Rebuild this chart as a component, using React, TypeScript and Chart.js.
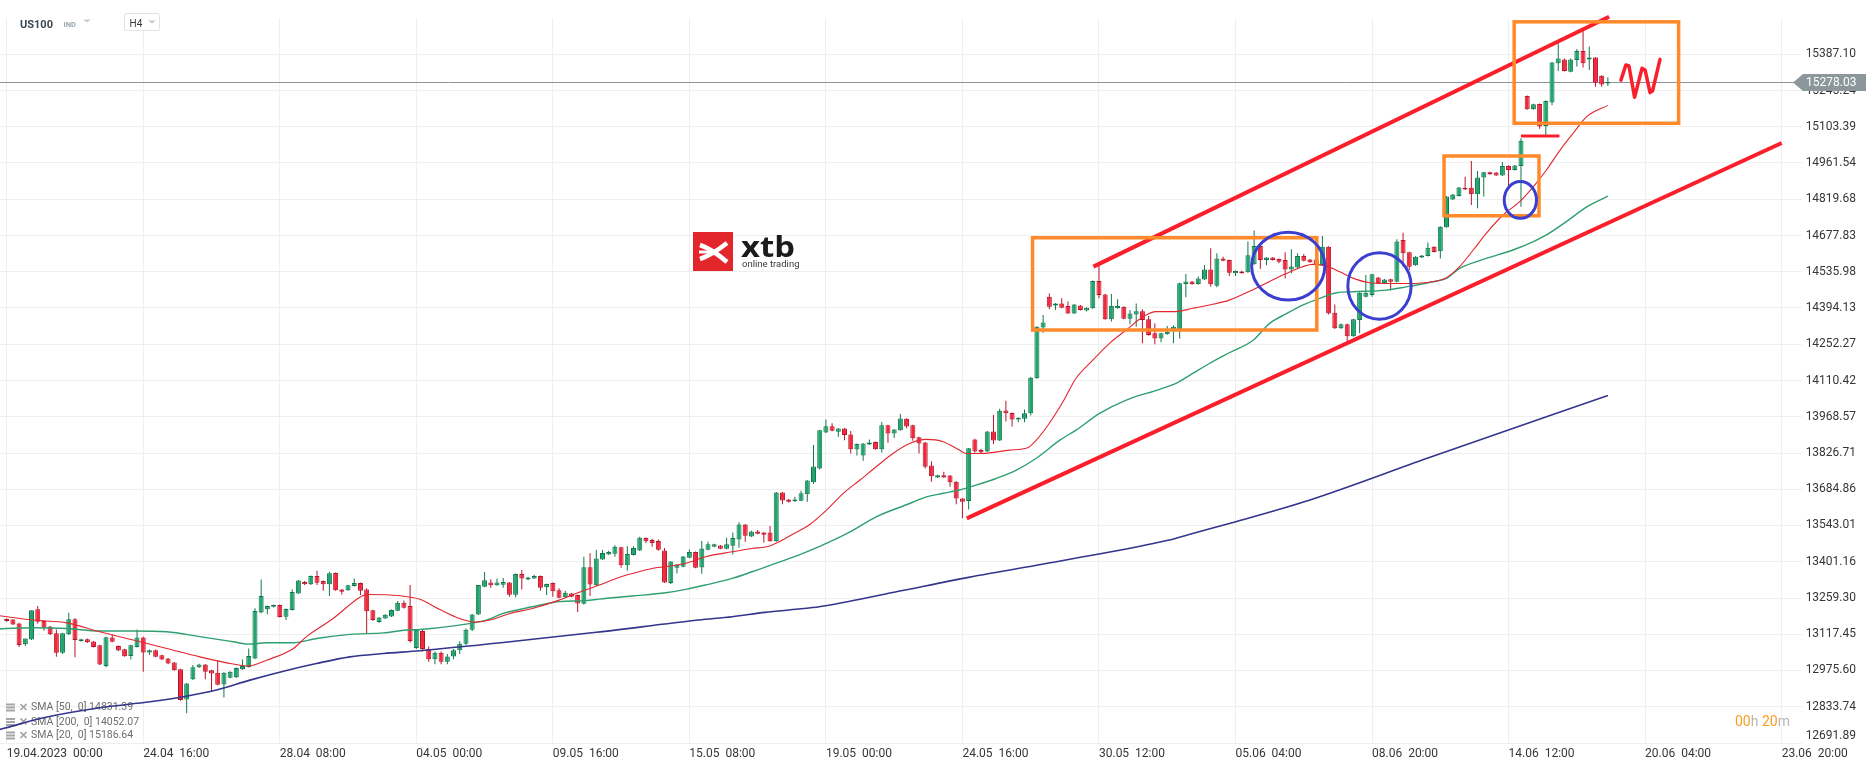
import React, { useEffect, useRef } from "react";
import { Chart, registerables } from "chart.js";

Chart.register(...registerables);

// ---------- DATA ----------
// H4 candles, index 0 = 19.04.2023 00:00, [open, high, low, close]
const ohlc: number[][] = [
  [13177,13179,13166,13169],[13175,13177,13154,13156],[13160,13162,13068,13075],[13078,13101,13071,13101],
  [13097,13211,13095,13211],[13215,13228,13160,13166],[13169,13172,13131,13144],[13148,13150,13115,13117],
  [13121,13136,13029,13045],[13045,13123,13040,13121],[13117,13202,13115,13176],[13176,13180,13027,13095],
  [13091,13100,13088,13098],[13098,13101,13083,13086],[13089,13091,13066,13068],[13074,13076,12997,12999],
  [12993,13108,12988,13106],[13105,13117,13086,13088],[13071,13073,13052,13054],[13059,13061,13029,13031],
  [13032,13076,13019,13074],[13068,13136,13066,13105],[13105,13108,12971,13046],[13046,13058,13036,13055],
  [13055,13058,13027,13029],[13035,13037,13017,13019],[13023,13025,13000,13003],[13007,13009,12975,12977],
  [12980,12982,12857,12860],[12862,12927,12808,12925],[12941,12997,12938,12988],[12988,13002,12985,12999],
  [12999,13001,12941,12971],[12977,12979,12892,12964],[12967,13014,12918,12920],[12921,12969,12870,12967],
  [12947,12973,12945,12971],[12949,12987,12946,12985],[12980,13019,12978,12993],[12989,13062,12987,13032],
  [13023,13219,13020,13208],[13203,13332,13200,13267],[13215,13230,13196,13228],[13225,13234,13222,13232],
  [13232,13234,13183,13185],[13186,13218,13173,13216],[13212,13293,13210,13283],[13277,13330,13275,13328],
  [13322,13326,13310,13313],[13313,13347,13310,13345],[13345,13366,13310,13319],[13326,13328,13288,13313],
  [13313,13362,13267,13356],[13357,13359,13288,13290],[13293,13295,13273,13284],[13290,13311,13288,13309],
  [13306,13336,13304,13318],[13318,13320,13271,13288],[13293,13297,13121,13207],[13211,13213,13170,13173],
  [13165,13185,13162,13183],[13179,13196,13177,13194],[13187,13214,13185,13212],[13209,13248,13207,13241],
  [13241,13250,13218,13221],[13228,13310,13084,13091],[13064,13136,13060,13134],[13130,13135,13050,13060],
  [13060,13070,13010,13020],[13020,13050,13000,13045],[13045,13050,13000,13010],[13010,13040,13000,13030],
  [13030,13060,13020,13055],[13055,13090,13040,13080],[13080,13140,13075,13135],[13135,13197,13130,13195],
  [13195,13310,13193,13310],[13303,13361,13301,13329],[13320,13333,13299,13309],[13309,13336,13307,13320],
  [13311,13338,13299,13322],[13320,13322,13264,13272],[13272,13355,13262,13353],[13353,13369,13293,13336],
  [13332,13342,13330,13340],[13336,13350,13334,13345],[13345,13347,13288,13299],[13301,13315,13271,13314],
  [13318,13320,13264,13286],[13290,13297,13258,13260],[13262,13288,13260,13280],[13277,13279,13262,13264],
  [13271,13273,13205,13238],[13237,13421,13234,13380],[13380,13434,13267,13312],[13309,13447,13307,13414],
  [13410,13447,13408,13435],[13430,13444,13428,13439],[13432,13466,13421,13460],[13458,13460,13378,13387],
  [13387,13462,13366,13431],[13428,13462,13426,13455],[13445,13499,13443,13495],[13494,13496,13475,13481],
  [13486,13491,13460,13475],[13482,13488,13444,13448],[13445,13455,13318,13320],[13318,13404,13314,13402],
  [13378,13391,13355,13389],[13382,13424,13380,13422],[13417,13449,13415,13439],[13439,13441,13376,13378],
  [13379,13482,13354,13453],[13448,13479,13446,13470],[13460,13472,13458,13470],[13465,13467,13450,13452],
  [13452,13495,13450,13470],[13464,13516,13430,13494],[13488,13556,13456,13547],[13547,13549,13479,13503],
  [13500,13522,13498,13520],[13520,13525,13509,13511],[13516,13518,13476,13507],[13516,13541,13479,13481],
  [13481,13674,13479,13672],[13672,13674,13626,13641],[13645,13647,13632,13636],[13638,13656,13636,13645],
  [13640,13679,13638,13669],[13665,13721,13636,13719],[13712,13858,13705,13774],[13766,13918,13762,13916],
  [13907,13958,13905,13931],[13931,13943,13912,13914],[13910,13925,13890,13923],[13923,13925,13877,13897],
  [13899,13913,13825,13841],[13840,13864,13817,13862],[13817,13866,13796,13864],[13860,13880,13858,13868],
  [13870,13872,13839,13841],[13841,13948,13829,13935],[13935,13937,13867,13903],[13903,13921,13885,13919],
  [13916,13979,13914,13962],[13961,13963,13924,13930],[13935,13937,13875,13884],[13888,13890,13825,13864],
  [13868,13870,13766,13773],[13778,13794,13714,13736],[13731,13742,13729,13740],[13740,13753,13729,13731],
  [13739,13741,13695,13712],[13714,13716,13626,13649],[13649,13651,13571,13636],[13639,13846,13606,13845],
  [13880,13882,13828,13833],[13838,13843,13827,13829],[13833,13913,13831,13911],[13911,13975,13862,13876],
  [13876,14000,13874,13992],[13993,14031,13950,13982],[13983,13985,13930,13958],[13958,13966,13947,13965],
  [13961,13997,13947,13982],[13982,14124,13973,14121],[14119,14323,14117,14321],[14318,14367,14297,14337],
  [14438,14451,14389,14399],[14404,14414,14386,14412],[14412,14432,14393,14395],[14402,14420,14371,14373],
  [14373,14410,14371,14408],[14404,14406,14384,14386],[14384,14397,14380,14395],[14393,14502,14391,14500],
  [14500,14560,14432,14445],[14447,14450,14348,14350],[14350,14449,14341,14403],[14393,14428,14391,14402],
  [14399,14401,14350,14352],[14352,14386,14331,14373],[14369,14412,14321,14381],[14381,14389,14256,14347],
  [14350,14363,14286,14288],[14295,14334,14252,14275],[14275,14297,14260,14295],[14291,14324,14289,14301],
  [14308,14327,14256,14321],[14308,14493,14275,14491],[14488,14527,14436,14498],[14498,14500,14485,14487],
  [14488,14517,14486,14510],[14506,14562,14504,14545],[14545,14628,14477,14487],[14481,14608,14475,14588],
  [14588,14595,14577,14579],[14582,14584,14519,14532],[14530,14541,14519,14539],[14537,14540,14528,14530],
  [14534,14654,14532,14601],[14565,14697,14563,14637],[14637,14639,14548,14582],[14582,14594,14561,14592],
  [14592,14594,14580,14582],[14586,14588,14569,14575],[14582,14612,14510,14545],[14545,14624,14530,14557],
  [14553,14608,14551,14598],[14598,14605,14577,14579],[14584,14586,14571,14573],[14584,14590,14560,14562],
  [14562,14676,14560,14634],[14634,14636,14369,14373],[14376,14408,14312,14315],[14315,14333,14312,14331],
  [14331,14333,14262,14284],[14284,14352,14282,14350],[14347,14456,14295,14454],[14438,14523,14436,14454],
  [14445,14528,14438,14526],[14513,14515,14488,14491],[14491,14508,14489,14506],[14507,14509,14464,14497],
  [14497,14663,14495,14654],[14660,14689,14556,14608],[14612,14614,14543,14556],[14561,14597,14559,14595],
  [14592,14602,14590,14600],[14598,14650,14596,14630],[14634,14636,14611,14613],[14616,14714,14588,14712],
  [14710,14832,14708,14830],[14819,14840,14817,14838],[14832,14868,14830,14866],[14865,14908,14856,14858],
  [14865,14969,14797,14839],[14839,14930,14784,14905],[14905,14927,14830,14925],[14925,14927,14916,14918],
  [14924,14926,14911,14913],[14913,14965,14911,14950],[14950,14952,14869,14934],[14934,14954,14932,14952],
  [14950,15058,14790,15049],[15224,15226,15170,15172],[15172,15193,15170,15191],[15192,15194,15096,15104],
  [15106,15206,15071,15204],[15198,15357,15188,15355],[15352,15430,15322,15370],[15367,15370,15320,15322],
  [15319,15370,15317,15367],[15365,15408,15339,15400],[15400,15485,15335,15352],[15367,15417,15325,15374],
  [15374,15376,15260,15276],[15303,15305,15260,15269],[15273,15297,15263,15278.03],
];

const lastPrice = 15278.03;

// Moving averages: [candle index, value]
const sma20: number[][] = [
  [-1.1,13190],[0,13186],[4.3,13173],[9.7,13162],[15,13127],[20.4,13095],[25.8,13062],[31.1,13029],
  [36.5,13001],[38.9,12993],[41.9,13016],[46.2,13062],[48.3,13108],[52.6,13179],[56.9,13262],[58,13273],
  [63.4,13268],[66.6,13254],[69.8,13214],[73,13179],[75.5,13165],[77.9,13173],[81.1,13199],[84.7,13218],
  [89,13251],[91.7,13277],[95.5,13310],[98.2,13336],[100.8,13355],[104,13375],[106.2,13382],[109.4,13395],
  [112.6,13421],[116.9,13440],[120.1,13453],[122.8,13462],[125,13486],[127.1,13515],[129.3,13545],
  [132.1,13603],[134.8,13669],[137.5,13721],[140.1,13773],[142.8,13825],[145.5,13864],[148.2,13880],
  [150.9,13871],[153.5,13838],[154.6,13825],[157.3,13825],[161.6,13838],[164.5,13847],[165.9,13877],
  [168,13943],[170.2,14027],[172.3,14119],[175,14190],[177.7,14256],[180.4,14308],[183.1,14360],
  [185.2,14380],[188.4,14380],[191.1,14393],[193.8,14406],[197,14425],[200.9,14467],[206.3,14530],
  [210.5,14565],[212.7,14558],[214.8,14536],[217,14510],[219.6,14493],[222.3,14490],[225.5,14490],
  [229.8,14497],[232,14513],[234.1,14556],[236.3,14621],[238.4,14686],[241.1,14758],[243.8,14810],
  [246,14869],[248.1,14934],[250.3,15012],[252.4,15078],[254.6,15143],[258,15187],
];
const sma50: number[][] = [
  [-1.1,13138],[0,13140],[4.3,13143],[9.7,13140],[15,13130],[20.4,13130],[25.8,13127],[31.1,13108],
  [36.5,13088],[38.9,13079],[41.9,13084],[46.2,13084],[49.9,13101],[55.3,13117],[60.7,13123],[64.4,13134],
  [66.6,13136],[72,13150],[77.3,13173],[80,13199],[84.7,13225],[89,13245],[93.3,13249],[95.5,13255],
  [100.8,13267],[106.2,13280],[109.4,13293],[112.6,13310],[116.9,13336],[120.1,13362],[123.9,13395],
  [127.6,13427],[130.9,13460],[133.2,13486],[135.9,13518],[140.1,13577],[145.5,13629],[148.2,13655],
  [150.9,13669],[153.5,13682],[156.2,13701],[159.4,13727],[162.7,13760],[165.9,13806],[169.7,13877],
  [172.3,13916],[176.1,13982],[180.4,14034],[185.8,14076],[188.4,14099],[191.1,14138],[193.8,14177],
  [197,14219],[200.9,14269],[203.5,14334],[206.3,14373],[208.9,14406],[211.6,14432],[214.3,14454],
  [217,14458],[222.3,14464],[225.5,14477],[229.8,14497],[232,14510],[234.1,14549],[238.4,14588],
  [242.7,14621],[246,14654],[248.1,14680],[251.3,14732],[254.6,14790],[258,14832],
];
const sma200: number[][] = [
  [-1.1,12745],[0,12752],[5.4,12788],[15,12830],[23.1,12853],[28.5,12873],[33.8,12899],[39.2,12938],
  [44.6,12973],[49.9,13003],[55.3,13029],[60.7,13042],[66.6,13053],[80,13085],[95,13125],[111.5,13173],
  [116.9,13186],[122.2,13203],[127.6,13216],[130.9,13225],[143,13282],[155,13340],[170,13405],
  [187.3,13486],[191.1,13512],[197,13551],[210,13643],[229,13807],[258,14052],
];

// Axis ticks
const xTickIdx = [0, 22, 44, 66, 88, 110, 132, 154, 176, 198, 220, 242, 264, 286];
const xTickLabels = [
  "19.04.2023  00:00", "24.04  16:00", "28.04  08:00", "04.05  00:00", "09.05  16:00",
  "15.05  08:00", "19.05  00:00", "24.05  16:00", "30.05  12:00", "05.06  04:00",
  "08.06  20:00", "14.06  12:00", "20.06  04:00", "23.06  20:00",
];
const yTicks = [
  12691.89, 12833.74, 12975.60, 13117.45, 13259.30, 13401.16, 13543.01, 13684.86, 13826.71, 13968.57,
  14110.42, 14252.27, 14394.13, 14535.98, 14677.83, 14819.68, 14961.54, 15103.39, 15245.24, 15387.10,
];
const yMax = 15528.95;

// Drawn annotations, in data units (candle index, price)
const upperTrend: number[][] = [[175.1, 14556], [258.2, 15534]];
const lowerTrend: number[][] = [[154.7, 13571], [286, 15040]];
const supportMark: number[][] = [[244, 15067], [250.2, 15067]];
const wSketch: number[][] = [
  [260.1, 15286], [260.9, 15345], [261.4, 15341], [262.3, 15219], [263.5, 15332],
  [264.0, 15325], [264.8, 15237], [265.2, 15244], [266.4, 15367],
];
const boxes: number[][] = [
  // [left idx, right idx, top price, bottom price]
  [165.3, 211.1, 14669, 14308],
  [231.6, 246.9, 14989, 14755],
  [242.9, 269.4, 15514, 15117],
];
const rings: number[][] = [
  // [centre idx, centre price, radius idx, radius price]
  [206.5, 14558, 5.9, 133],
  [221.2, 14480, 5.1, 130],
  [243.9, 14817, 2.6, 72],
];

const legendRows = ["SMA [50,  0] 14831.39", "SMA [200,  0] 14052.07", "SMA [20,  0] 15186.64"];

// ---------- COLOURS ----------
const UP_FILL = "#22a46f";
const UP_LINE = "#11774c";
const DN_FILL = "#f2283c";
const DN_LINE = "#b8142a";
const TREND_RED = "#fb1f2c";
const BOX_ORANGE = "#ff8a2b";
const RING_BLUE = "#3b3fcf";
const GRID = "#efefef";

const overlayPlugin = {
  id: "overlay",
  beforeDatasetsDraw(chart: any) {
    const { ctx, scales } = chart;
    const y = scales.y;
    ctx.save();
    // current price line
    const py = Math.round(y.getPixelForValue(lastPrice)) + 0.5;
    ctx.strokeStyle = "#8a9499";
    ctx.lineWidth = 1;
    ctx.beginPath();
    ctx.moveTo(0, py);
    ctx.lineTo(1794, py);
    ctx.stroke();

    // xtb logo
    ctx.fillStyle = "#e3262b";
    ctx.fillRect(693, 232, 40, 39);
    ctx.strokeStyle = "#ffffff";
    ctx.lineCap = "butt";
    ctx.lineWidth = 4.5;
    ctx.beginPath();
    ctx.moveTo(700, 259);
    ctx.quadraticCurveTo(712, 255, 727, 243);
    ctx.stroke();
    ctx.beginPath();
    ctx.moveTo(700, 245);
    ctx.quadraticCurveTo(712, 249, 727, 262);
    ctx.stroke();
    ctx.lineWidth = 3;
    ctx.beginPath();
    ctx.moveTo(699, 252);
    ctx.lineTo(710, 252);
    ctx.stroke();
    ctx.fillStyle = "#1b1b1b";
    ctx.textBaseline = "alphabetic";
    ctx.textAlign = "left";
    ctx.save();
    ctx.translate(741, 257);
    ctx.scale(1.13, 1);
    ctx.font = "bold 29px 'Open Sans'";
    ctx.fillText("xtb", 0, 0);
    ctx.restore();
    ctx.fillStyle = "#3a3a3a";
    ctx.font = "9.5px Roboto";
    ctx.fillText("online trading", 742, 267);

    // indicator legend
    ctx.font = "10.5px Roboto";
    ctx.textBaseline = "middle";
    const rowY = [707.5, 722, 735.5];
    legendRows.forEach((t, i) => {
      const cy = rowY[i];
      ctx.fillStyle = "#a6a6a6";
      ctx.fillRect(6, cy - 4, 9, 2);
      ctx.fillRect(6, cy - 1, 9, 2);
      ctx.fillRect(6, cy + 2, 9, 2);
      ctx.strokeStyle = "#a0a0a0";
      ctx.lineWidth = 1.6;
      ctx.beginPath();
      ctx.moveTo(20.5, cy - 3.5);
      ctx.lineTo(26.5, cy + 2.5);
      ctx.moveTo(26.5, cy - 3.5);
      ctx.lineTo(20.5, cy + 2.5);
      ctx.stroke();
      ctx.fillStyle = "#6e6e6e";
      ctx.fillText(t, 31, cy);
    });
    ctx.restore();
  },
  afterDatasetsDraw(chart: any) {
    const { ctx, scales } = chart;
    const x = scales.x;
    const y = scales.y;
    ctx.save();
    ctx.lineWidth = 3.5;
    ctx.strokeStyle = BOX_ORANGE;
    boxes.forEach(([l, r, t, b]) => {
      const x0 = x.getPixelForValue(l);
      const x1 = x.getPixelForValue(r);
      const y0 = y.getPixelForValue(t);
      const y1 = y.getPixelForValue(b);
      ctx.strokeRect(x0, y0, x1 - x0, y1 - y0);
    });
    ctx.strokeStyle = RING_BLUE;
    ctx.lineWidth = 3;
    rings.forEach(([cx, cy, rx, ry]) => {
      const px = x.getPixelForValue(cx);
      const py = y.getPixelForValue(cy);
      const prx = Math.abs(x.getPixelForValue(cx + rx) - px);
      const pry = Math.abs(y.getPixelForValue(cy + ry) - py);
      ctx.beginPath();
      ctx.ellipse(px, py, prx, pry, 0, 0, Math.PI * 2);
      ctx.stroke();
    });
    ctx.restore();
  },
  afterDraw(chart: any) {
    const { ctx, scales } = chart;
    const y = scales.y;
    ctx.save();
    // price tag
    const py = Math.round(y.getPixelForValue(lastPrice)) + 0.5;
    ctx.fillStyle = "#8c979b";
    ctx.beginPath();
    ctx.moveTo(1793, py);
    ctx.lineTo(1803, py - 8.5);
    ctx.lineTo(1866, py - 8.5);
    ctx.lineTo(1866, py + 8.5);
    ctx.lineTo(1803, py + 8.5);
    ctx.closePath();
    ctx.fill();
    ctx.fillStyle = "#ffffff";
    ctx.font = "12px Roboto";
    ctx.textAlign = "left";
    ctx.textBaseline = "middle";
    ctx.fillText(lastPrice.toFixed(2), 1806, py + 0.5);

    // header
    ctx.textBaseline = "alphabetic";
    ctx.fillStyle = "#3b4651";
    ctx.font = "bold 11px Roboto";
    ctx.fillText("US100", 20, 27.5);
    ctx.fillStyle = "#98a6ae";
    ctx.font = "bold 7.5px Roboto";
    ctx.fillText("IND", 63.5, 27);
    ctx.fillStyle = "#c9c9c9";
    ctx.beginPath();
    ctx.moveTo(83, 19.5);
    ctx.lineTo(91, 19.5);
    ctx.lineTo(87, 22.5);
    ctx.closePath();
    ctx.fill();
    ctx.fillStyle = "#ffffff";
    ctx.strokeStyle = "#e2e2e2";
    ctx.lineWidth = 1;
    ctx.beginPath();
    ctx.roundRect(124.5, 13.5, 35, 17, 2);
    ctx.fill();
    ctx.stroke();
    ctx.fillStyle = "#3a3a3a";
    ctx.font = "10px Roboto";
    ctx.fillText("H4", 129.5, 26.5);
    ctx.fillStyle = "#c9c9c9";
    ctx.beginPath();
    ctx.moveTo(148, 20.5);
    ctx.lineTo(156, 20.5);
    ctx.lineTo(152, 23.5);
    ctx.closePath();
    ctx.fill();

    // session timer
    ctx.font = "14px Roboto";
    ctx.textBaseline = "middle";
    let tx = 1735;
    const parts: [string, string][] = [["00", "#ff9a1f"], ["h ", "#b5b5b5"], ["20", "#ff9a1f"], ["m", "#b5b5b5"]];
    parts.forEach(([s, c]) => {
      ctx.fillStyle = c;
      ctx.fillText(s, tx, 722.5);
      tx += ctx.measureText(s).width;
    });
    ctx.restore();
  },
};

export default function App() {
  const ref = useRef<HTMLCanvasElement | null>(null);

  useEffect(() => {
    if (!ref.current) return;
    const up = ohlc.map((c) => c[3] >= c[0]);
    const bodies = ohlc.map((c, i) => ({ x: i, y: [c[0], c[3]] }));
    const wicks = ohlc.map((c, i) => ({ x: i, y: [c[2], c[1]] }));
    const pts = (arr: number[][]) => arr.map(([a, b]) => ({ x: a, y: b }));

    const chart = new Chart(ref.current, {
      type: "bar",
      data: {
        datasets: [
          {
            type: "bar",
            data: wicks as any,
            backgroundColor: up.map((u) => (u ? UP_LINE : DN_LINE)),
            barThickness: 1,
            grouped: false,
            inflateAmount: 0,
            order: 10,
          } as any,
          {
            type: "bar",
            data: bodies as any,
            backgroundColor: up.map((u) => (u ? UP_FILL : DN_FILL)),
            borderColor: up.map((u) => (u ? UP_LINE : DN_LINE)),
            borderWidth: 1,
            borderSkipped: false,
            barThickness: 5,
            minBarLength: 1,
            grouped: false,
            inflateAmount: 0,
            order: 9,
          } as any,
          {
            type: "line",
            data: pts(sma200),
            borderColor: "#34358c",
            borderWidth: 1.6,
            pointRadius: 0,
            cubicInterpolationMode: "monotone",
            order: 8,
          } as any,
          {
            type: "line",
            data: pts(sma50),
            borderColor: "#2f9f70",
            borderWidth: 1.4,
            pointRadius: 0,
            cubicInterpolationMode: "monotone",
            order: 7,
          } as any,
          {
            type: "line",
            data: pts(sma20),
            borderColor: "#e4262f",
            borderWidth: 1.1,
            pointRadius: 0,
            cubicInterpolationMode: "monotone",
            order: 6,
          } as any,
          {
            type: "line",
            data: pts(upperTrend),
            borderColor: TREND_RED,
            borderWidth: 4,
            pointRadius: 0,
            clip: 10,
            order: 1,
          } as any,
          {
            type: "line",
            data: pts(lowerTrend),
            borderColor: TREND_RED,
            borderWidth: 4,
            pointRadius: 0,
            clip: 10,
            order: 1,
          } as any,
          {
            type: "line",
            data: pts(supportMark),
            borderColor: TREND_RED,
            borderWidth: 3,
            pointRadius: 0,
            order: 1,
          } as any,
          {
            type: "line",
            data: pts(wSketch),
            borderColor: TREND_RED,
            borderWidth: 3.5,
            borderJoinStyle: "round",
            borderCapStyle: "round",
            pointRadius: 0,
            order: 1,
          } as any,
        ],
      },
      options: {
        responsive: false,
        animation: false,
        layout: { padding: { top: 18, right: 10, left: 0, bottom: 0 } },
        plugins: { legend: { display: false }, tooltip: { enabled: false } },
        scales: {
          x: {
            type: "linear",
            min: -1.08,
            max: 289.28,
            offset: false,
            grid: { color: GRID, drawTicks: false, offset: false },
            border: { display: false },
            ticks: {
              autoSkip: false,
              maxRotation: 0,
              align: "start",
              padding: 4,
              color: "#363636",
              font: { family: "Roboto", size: 12 },
              callback: (v: any) => {
                const k = xTickIdx.indexOf(Number(v));
                return k >= 0 ? xTickLabels[k] : "";
              },
            },
            afterBuildTicks: (s: any) => {
              s.ticks = xTickIdx.map((v) => ({ value: v }));
            },
            afterFit: (s: any) => {
              s.height = 24;
              s.paddingLeft = 0;
              s.paddingRight = 0;
            },
          } as any,
          y: {
            type: "linear",
            position: "right",
            min: yTicks[0],
            max: yMax,
            grid: { color: GRID, drawTicks: false },
            border: { display: false },
            ticks: {
              crossAlign: "far",
              padding: 4,
              color: "#363636",
              font: { family: "Roboto", size: 12 },
              callback: (v: any) => {
                const n = Number(v);
                return n === yTicks[0] ? [n.toFixed(2), ""] : n.toFixed(2);
              },
            },
            afterBuildTicks: (s: any) => {
              s.ticks = yTicks.map((v) => ({ value: v }));
            },
            afterFit: (s: any) => {
              s.width = 54;
              s.paddingTop = 0;
              s.paddingBottom = 0;
            },
          } as any,
        },
      },
      plugins: [overlayPlugin],
    });
    return () => chart.destroy();
  }, []);

  return (
    <div style={{ position: "fixed", left: 0, top: 0, width: 1866, height: 767, background: "#ffffff" }}>
      <canvas ref={ref} width={1866} height={767} style={{ width: 1866, height: 767, display: "block" }} />
    </div>
  );
}
